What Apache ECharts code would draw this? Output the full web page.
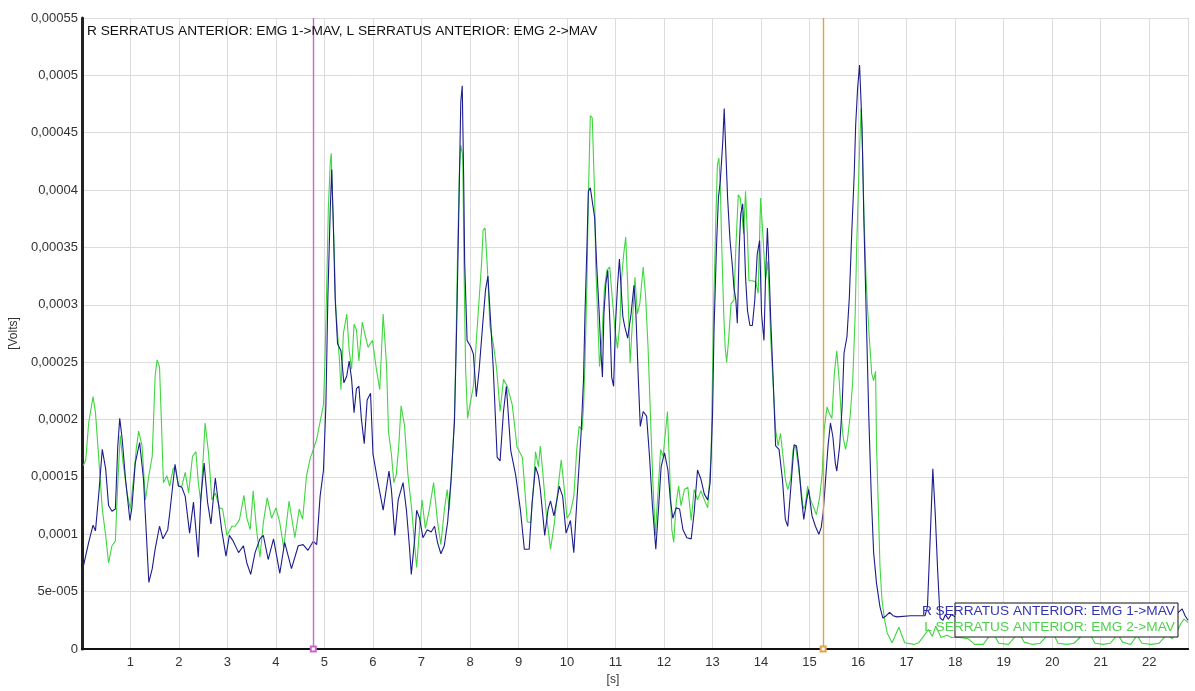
<!DOCTYPE html>
<html>
<head>
<meta charset="utf-8">
<script src="https://cdn.jsdelivr.net/npm/echarts@6/dist/echarts.min.js"></script>
<style>
html,body{margin:0;padding:0;background:#fff;}
#chart{width:1195px;height:691px;}
</style>
</head>
<body>
<div id="chart"></div>
<script>
// ---- data (time in s, amplitude in Volts) ----
const chartTitle = 'R SERRATUS ANTERIOR: EMG 1->MAV, L SERRATUS ANTERIOR: EMG 2->MAV';
const seriesNames = ['R SERRATUS ANTERIOR: EMG 1->MAV', 'L SERRATUS ANTERIOR: EMG 2->MAV'];
const xAxisName = '[s]';
const yAxisName = '[Volts]';
const yTickLabels = ['0','5e-005','0,0001','0,00015','0,0002','0,00025','0,0003','0,00035','0,0004','0,00045','0,0005','0,00055'];
const markerTimes = [4.77, 15.28];

const rSerratus = [
[0.03,7.2e-5],[0.14,9.3e-5],[0.23,10.8e-5],[0.28,10.3e-5],[0.35,13.6e-5],[0.42,17.4e-5],[0.49,15.7e-5],[0.55,12.5e-5],[0.62,12.0e-5],[0.69,12.2e-5],
[0.74,17.7e-5],[0.78,20.1e-5],[0.83,18.3e-5],[0.90,14.8e-5],[0.99,11.2e-5],[1.03,12.3e-5],[1.10,16.2e-5],[1.19,18.0e-5],[1.27,14.8e-5],[1.33,9.9e-5],
[1.38,5.8e-5],[1.45,7.0e-5],[1.51,8.7e-5],[1.60,10.7e-5],[1.67,9.6e-5],[1.77,10.4e-5],[1.82,12.2e-5],[1.92,16.1e-5],[1.99,14.2e-5],[2.06,14.1e-5],
[2.13,13.3e-5],[2.22,10.1e-5],[2.30,12.8e-5],[2.40,8.0e-5],[2.45,13.0e-5],[2.52,16.2e-5],[2.59,12.8e-5],[2.66,10.9e-5],[2.75,14.9e-5],[2.82,12.5e-5],
[2.88,10.4e-5],[2.97,8.1e-5],[3.04,9.9e-5],[3.12,9.4e-5],[3.23,8.4e-5],[3.33,9.0e-5],[3.40,7.5e-5],[3.48,6.5e-5],[3.57,8.4e-5],[3.67,9.6e-5],
[3.74,9.9e-5],[3.84,7.8e-5],[3.95,9.6e-5],[4.08,6.6e-5],[4.18,9.3e-5],[4.32,7.0e-5],[4.46,9.0e-5],[4.56,9.1e-5],[4.66,8.6e-5],[4.77,9.4e-5],
[4.84,9.1e-5],[4.91,13.3e-5],[4.98,15.6e-5],[5.03,21.3e-5],[5.07,30.6e-5],[5.12,38.4e-5],[5.15,41.8e-5],[5.18,37.4e-5],[5.22,30.6e-5],[5.27,26.6e-5],
[5.34,26.0e-5],[5.40,23.2e-5],[5.46,23.8e-5],[5.51,25.1e-5],[5.56,23.5e-5],[5.61,20.6e-5],[5.66,22.7e-5],[5.71,22.9e-5],[5.76,20.1e-5],[5.82,17.9e-5],
[5.88,21.7e-5],[5.95,22.3e-5],[6.00,17.0e-5],[6.09,14.8e-5],[6.21,12.1e-5],[6.33,15.5e-5],[6.38,13.9e-5],[6.45,9.9e-5],[6.52,13.0e-5],[6.62,14.5e-5],
[6.69,12.1e-5],[6.75,9.0e-5],[6.79,6.5e-5],[6.86,9.6e-5],[6.90,12.1e-5],[6.96,11.4e-5],[7.03,9.7e-5],[7.12,10.4e-5],[7.20,10.2e-5],[7.27,10.7e-5],
[7.33,9.3e-5],[7.40,8.3e-5],[7.47,9.0e-5],[7.54,11.1e-5],[7.61,14.8e-5],[7.68,19.8e-5],[7.73,29.1e-5],[7.78,40.5e-5],[7.81,47.7e-5],[7.84,49.1e-5],
[7.87,40.9e-5],[7.89,33.7e-5],[7.94,26.9e-5],[8.02,26.3e-5],[8.07,25.7e-5],[8.13,22.0e-5],[8.19,24.4e-5],[8.26,28.2e-5],[8.32,31.3e-5],[8.37,32.5e-5],
[8.43,28.2e-5],[8.48,24.4e-5],[8.56,16.7e-5],[8.62,16.4e-5],[8.69,20.7e-5],[8.75,22.9e-5],[8.84,17.3e-5],[8.94,15.2e-5],[9.04,12.1e-5],[9.12,8.7e-5],
[9.22,8.7e-5],[9.28,12.7e-5],[9.35,15.9e-5],[9.41,15.1e-5],[9.45,13.9e-5],[9.54,9.9e-5],[9.61,12.2e-5],[9.66,12.9e-5],[9.73,11.6e-5],[9.80,13.2e-5],
[9.84,14.2e-5],[9.91,13.3e-5],[9.98,10.1e-5],[10.07,11.2e-5],[10.14,8.4e-5],[10.20,12.7e-5],[10.29,18.8e-5],[10.34,23.5e-5],[10.37,29.2e-5],[10.41,35.0e-5],
[10.44,39.9e-5],[10.48,40.2e-5],[10.52,40.2e-5],[10.57,37.6e-5],[10.61,33.6e-5],[10.66,29.5e-5],[10.70,25.8e-5],[10.73,23.7e-5],[10.76,29.2e-5],[10.80,31.8e-5],
[10.84,33.0e-5],[10.89,27.8e-5],[10.92,23.7e-5],[10.96,22.9e-5],[11.00,28.4e-5],[11.04,31.6e-5],[11.08,34.0e-5],[11.11,31.8e-5],[11.15,29.0e-5],[11.19,28.1e-5],
[11.25,27.1e-5],[11.32,29.2e-5],[11.38,31.7e-5],[11.42,29.2e-5],[11.47,23.5e-5],[11.51,19.4e-5],[11.57,20.7e-5],[11.64,20.3e-5],[11.70,16.8e-5],[11.76,12.5e-5],
[11.83,8.7e-5],[11.89,12.5e-5],[11.94,15.9e-5],[12.01,17.1e-5],[12.08,15.6e-5],[12.13,13.0e-5],[12.18,11.4e-5],[12.25,12.3e-5],[12.32,12.2e-5],[12.39,10.4e-5],
[12.47,9.7e-5],[12.56,9.6e-5],[12.62,11.9e-5],[12.69,15.6e-5],[12.76,14.8e-5],[12.83,13.5e-5],[12.90,13.0e-5],[12.95,14.5e-5],[13.00,20.5e-5],[13.03,27.8e-5],
[13.08,35.0e-5],[13.12,39.3e-5],[13.16,40.8e-5],[13.21,44.2e-5],[13.24,47.1e-5],[13.27,43.7e-5],[13.31,39.3e-5],[13.36,35.6e-5],[13.41,33.3e-5],[13.44,31.5e-5],
[13.48,30.4e-5],[13.51,28.4e-5],[13.55,35.0e-5],[13.58,37.9e-5],[13.62,38.8e-5],[13.65,36.2e-5],[13.68,32.4e-5],[13.72,29.5e-5],[13.77,28.2e-5],[13.82,28.2e-5],
[13.87,30.4e-5],[13.92,34.4e-5],[13.97,35.6e-5],[14.01,29.2e-5],[14.06,26.9e-5],[14.09,32.1e-5],[14.13,36.7e-5],[14.16,33.6e-5],[14.20,28.6e-5],[14.25,23.4e-5],
[14.30,17.7e-5],[14.37,17.4e-5],[14.44,14.8e-5],[14.50,11.3e-5],[14.55,10.7e-5],[14.61,13.9e-5],[14.68,17.8e-5],[14.73,17.7e-5],[14.78,15.9e-5],[14.83,13.3e-5],
[14.88,11.3e-5],[14.94,13.0e-5],[14.98,13.9e-5],[15.05,11.6e-5],[15.12,10.7e-5],[15.19,10.0e-5],[15.24,10.6e-5],[15.28,11.9e-5],[15.32,14.2e-5],[15.38,17.7e-5],
[15.43,19.7e-5],[15.48,18.5e-5],[15.53,16.2e-5],[15.56,15.5e-5],[15.62,17.7e-5],[15.67,21.1e-5],[15.71,25.8e-5],[15.77,27.2e-5],[15.82,30.7e-5],[15.87,36.4e-5],
[15.92,41.4e-5],[15.95,45.7e-5],[15.99,48.9e-5],[16.03,50.9e-5],[16.08,45.6e-5],[16.12,37.2e-5],[16.17,28.7e-5],[16.22,20.3e-5],[16.27,13.5e-5],[16.32,8.4e-5],
[16.38,5.7e-5],[16.45,3.7e-5],[16.51,2.7e-5],[16.58,2.9e-5],[16.65,3.2e-5],[16.72,2.9e-5],[16.80,2.8e-5],[17.08,2.9e-5],[17.38,2.9e-5],[17.43,3.7e-5],
[17.49,10.1e-5],[17.54,15.7e-5],[17.59,11.8e-5],[17.64,6.8e-5],[17.69,2.7e-5],[17.75,2.5e-5],[17.80,3.0e-5],[17.86,2.6e-5],[17.92,3.0e-5],[18.00,2.8e-5],
[18.10,3.0e-5],[18.50,2.9e-5],[19.00,2.9e-5],[19.50,2.9e-5],[20.00,2.9e-5],[20.50,2.9e-5],[21.00,2.9e-5],[21.50,2.9e-5],[22.00,2.9e-5],[22.50,2.9e-5],
[22.60,3.2e-5],[22.68,3.5e-5],[22.74,2.9e-5],[22.80,2.5e-5]
];

const lSerratus = [
[0.03,16.0e-5],[0.08,16.5e-5],[0.14,19.7e-5],[0.23,22.0e-5],[0.28,20.6e-5],[0.35,16.5e-5],[0.42,12.2e-5],[0.49,9.9e-5],[0.55,7.5e-5],[0.62,9.0e-5],
[0.69,9.4e-5],[0.74,14.5e-5],[0.79,18.6e-5],[0.85,16.2e-5],[0.93,13.6e-5],[1.00,12.2e-5],[1.07,15.1e-5],[1.12,17.4e-5],[1.17,19.0e-5],[1.24,17.7e-5],
[1.31,13.0e-5],[1.38,15.1e-5],[1.45,16.8e-5],[1.51,23.8e-5],[1.55,25.2e-5],[1.60,24.6e-5],[1.64,19.7e-5],[1.68,14.5e-5],[1.75,15.1e-5],[1.81,14.2e-5],
[1.88,15.7e-5],[1.92,15.9e-5],[1.99,14.2e-5],[2.06,14.2e-5],[2.13,15.4e-5],[2.20,13.6e-5],[2.28,16.8e-5],[2.35,17.2e-5],[2.40,14.5e-5],[2.45,12.8e-5],
[2.54,19.7e-5],[2.61,17.1e-5],[2.68,13.0e-5],[2.75,13.6e-5],[2.84,12.3e-5],[2.90,12.2e-5],[2.99,9.9e-5],[3.09,10.7e-5],[3.16,10.7e-5],[3.25,11.3e-5],
[3.34,13.4e-5],[3.40,11.4e-5],[3.47,10.4e-5],[3.53,13.8e-5],[3.60,10.4e-5],[3.67,8.0e-5],[3.74,11.0e-5],[3.82,13.2e-5],[3.91,11.4e-5],[4.00,12.3e-5],
[4.08,11.0e-5],[4.16,8.8e-5],[4.27,12.9e-5],[4.39,9.7e-5],[4.48,12.2e-5],[4.55,11.3e-5],[4.63,15.1e-5],[4.71,16.7e-5],[4.74,17.0e-5],[4.84,18.3e-5],
[4.91,19.8e-5],[4.98,21.3e-5],[5.01,25.1e-5],[5.05,32.2e-5],[5.08,38.4e-5],[5.12,42.4e-5],[5.14,43.2e-5],[5.16,39.9e-5],[5.20,35.0e-5],[5.23,30.0e-5],
[5.27,27.5e-5],[5.31,25.1e-5],[5.34,22.6e-5],[5.39,27.5e-5],[5.46,29.2e-5],[5.51,26.0e-5],[5.56,24.4e-5],[5.61,28.3e-5],[5.66,27.8e-5],[5.71,25.1e-5],
[5.78,28.5e-5],[5.83,27.5e-5],[5.90,26.3e-5],[5.99,26.9e-5],[6.07,24.4e-5],[6.14,22.6e-5],[6.21,29.2e-5],[6.28,24.7e-5],[6.32,18.9e-5],[6.38,17.0e-5],
[6.43,14.5e-5],[6.48,15.2e-5],[6.53,17.6e-5],[6.58,21.2e-5],[6.65,19.5e-5],[6.72,15.2e-5],[6.80,12.1e-5],[6.86,9.0e-5],[6.90,7.1e-5],[6.96,10.5e-5],
[7.01,13.0e-5],[7.08,10.5e-5],[7.16,12.1e-5],[7.25,14.5e-5],[7.33,11.1e-5],[7.40,9.1e-5],[7.47,12.1e-5],[7.53,13.9e-5],[7.57,12.1e-5],[7.62,15.2e-5],
[7.68,20.4e-5],[7.71,26.0e-5],[7.74,33.7e-5],[7.78,41.5e-5],[7.81,43.9e-5],[7.85,43.0e-5],[7.88,32.2e-5],[7.91,24.4e-5],[7.95,20.1e-5],[8.00,21.3e-5],
[8.07,22.9e-5],[8.14,27.5e-5],[8.19,30.6e-5],[8.24,33.7e-5],[8.27,36.5e-5],[8.31,36.7e-5],[8.36,33.1e-5],[8.41,28.2e-5],[8.48,26.6e-5],[8.55,24.4e-5],
[8.62,20.7e-5],[8.69,23.5e-5],[8.77,22.9e-5],[8.87,21.3e-5],[8.97,17.6e-5],[9.08,16.7e-5],[9.18,11.1e-5],[9.25,11.0e-5],[9.32,14.8e-5],[9.35,17.2e-5],
[9.41,15.9e-5],[9.45,17.7e-5],[9.50,15.4e-5],[9.57,11.9e-5],[9.66,8.7e-5],[9.74,11.0e-5],[9.82,14.2e-5],[9.88,16.5e-5],[9.93,14.5e-5],[10.00,11.4e-5],
[10.07,11.9e-5],[10.14,13.3e-5],[10.20,17.4e-5],[10.25,19.4e-5],[10.31,19.1e-5],[10.34,21.1e-5],[10.37,24.9e-5],[10.41,31.8e-5],[10.44,39.4e-5],[10.48,46.5e-5],
[10.52,46.3e-5],[10.57,39.4e-5],[10.59,33.6e-5],[10.63,29.2e-5],[10.67,24.6e-5],[10.72,27.2e-5],[10.77,31.3e-5],[10.82,33.0e-5],[10.88,33.3e-5],[10.93,30.7e-5],
[10.99,27.8e-5],[11.04,26.2e-5],[11.09,28.4e-5],[11.12,32.1e-5],[11.17,34.5e-5],[11.21,35.9e-5],[11.25,31.8e-5],[11.30,24.9e-5],[11.34,24.9e-5],[11.40,32.4e-5],
[11.45,29.2e-5],[11.50,30.1e-5],[11.57,33.3e-5],[11.62,30.7e-5],[11.67,26.3e-5],[11.72,20.3e-5],[11.77,14.5e-5],[11.82,9.9e-5],[11.87,13.3e-5],[11.93,17.4e-5],
[11.98,16.8e-5],[12.02,16.8e-5],[12.07,20.7e-5],[12.11,16.2e-5],[12.16,10.4e-5],[12.20,9.3e-5],[12.25,12.7e-5],[12.30,14.2e-5],[12.35,12.5e-5],[12.42,13.9e-5],
[12.49,14.1e-5],[12.56,11.2e-5],[12.62,13.9e-5],[12.69,13.0e-5],[12.76,13.8e-5],[12.83,13.0e-5],[12.90,12.3e-5],[12.97,16.8e-5],[13.02,29.2e-5],[13.07,37.9e-5],
[13.10,42.2e-5],[13.13,42.8e-5],[13.16,40.2e-5],[13.19,35.0e-5],[13.23,29.2e-5],[13.26,26.3e-5],[13.29,25.0e-5],[13.33,26.9e-5],[13.38,30.1e-5],[13.44,30.4e-5],
[13.48,35.0e-5],[13.53,39.6e-5],[13.57,39.3e-5],[13.60,38.2e-5],[13.64,36.2e-5],[13.68,39.9e-5],[13.72,35.9e-5],[13.75,32.1e-5],[13.82,32.1e-5],[13.89,32.0e-5],
[13.94,31.0e-5],[13.99,39.3e-5],[14.04,35.9e-5],[14.09,32.1e-5],[14.14,33.8e-5],[14.20,26.9e-5],[14.25,22.9e-5],[14.30,19.1e-5],[14.35,17.7e-5],[14.40,18.8e-5],
[14.46,16.5e-5],[14.50,14.8e-5],[14.55,13.9e-5],[14.61,14.8e-5],[14.66,17.4e-5],[14.71,17.7e-5],[14.76,16.2e-5],[14.81,14.5e-5],[14.87,12.2e-5],[14.91,12.5e-5],
[14.96,14.2e-5],[15.02,13.0e-5],[15.07,12.5e-5],[15.14,11.7e-5],[15.21,13.3e-5],[15.26,15.3e-5],[15.30,19.1e-5],[15.36,21.1e-5],[15.41,20.5e-5],[15.46,20.1e-5],
[15.51,24.0e-5],[15.56,26.0e-5],[15.61,23.4e-5],[15.65,20.5e-5],[15.69,18.5e-5],[15.74,17.4e-5],[15.78,18.2e-5],[15.84,20.5e-5],[15.89,23.4e-5],[15.94,29.2e-5],
[15.97,35.0e-5],[16.02,42.2e-5],[16.06,47.1e-5],[16.09,43.7e-5],[16.12,37.9e-5],[16.16,32.7e-5],[16.19,30.1e-5],[16.23,27.2e-5],[16.28,24.0e-5],[16.32,23.4e-5],
[16.36,24.2e-5],[16.38,17.7e-5],[16.42,11.9e-5],[16.45,7.3e-5],[16.49,4.4e-5],[16.54,2.7e-5],[16.60,1.4e-5],[16.70,0.55e-5],[16.84,1.9e-5],[16.96,0.55e-5],
[17.15,0.4e-5],[17.25,0.55e-5],[17.35,1.1e-5],[17.45,1.7e-5],[17.53,1.1e-5],[17.60,2.0e-5],[17.71,1.0e-5],[17.83,1.2e-5],[17.93,1.0e-5],[18.10,1.0e-5],
[18.27,0.9e-5],[18.40,0.4e-5],[18.58,0.4e-5],[18.70,1.1e-5],[18.80,1.3e-5],[18.90,0.5e-5],[19.10,0.4e-5],[19.22,1.0e-5],[19.32,1.4e-5],[19.42,0.6e-5],
[19.60,0.4e-5],[19.75,0.5e-5],[19.92,1.3e-5],[20.02,1.4e-5],[20.12,0.5e-5],[20.30,0.4e-5],[20.45,0.5e-5],[20.62,1.2e-5],[20.78,1.3e-5],[20.88,0.5e-5],
[21.05,0.4e-5],[21.20,0.5e-5],[21.35,1.3e-5],[21.45,0.6e-5],[21.62,0.4e-5],[21.75,1.2e-5],[21.85,0.5e-5],[22.05,0.4e-5],[22.20,0.5e-5],[22.37,1.3e-5],
[22.47,0.9e-5],[22.57,1.5e-5],[22.65,2.2e-5],[22.72,2.6e-5],[22.80,2.3e-5]
];

// ---- chart ----
const FONT = '"Liberation Sans", Arial, sans-serif';
const chart = echarts.init(document.getElementById('chart'), null, {renderer: 'canvas'});
const xMin = 0, xMax = 22.8, yMax = 0.00055, yStep = 0.00005;

chart.setOption({
  animation: false,
  backgroundColor: '#ffffff',
  title: {
    text: chartTitle, left: 82, top: 19,
    textStyle: {fontFamily: FONT, fontSize: 13.7, fontWeight: 'normal', color: '#111'}
  },
  grid: {left: 79, right: 7, top: 18, bottom: 38, containLabel: false},
  xAxis: [{
    type: 'value', min: xMin, max: xMax, interval: 1,
    name: xAxisName, nameLocation: 'middle', nameGap: 25,
    nameTextStyle: {fontFamily: FONT, fontSize: 12, color: '#333', padding: [0, 44, 0, 0]},
    axisLine: {show: true, onZero: false, lineStyle: {color: '#111', width: 2}},
    axisTick: {show: false},
    axisLabel: {fontFamily: FONT, fontSize: 13, color: '#333', margin: 7, showMinLabel: false, showMaxLabel: false,
      formatter: v => (v === 0 ? '' : String(v))},
    splitLine: {show: true, lineStyle: {color: '#dcdcdc', width: 1}}
  }, {
    type: 'value', position: 'top', min: xMin, max: xMax,
    axisLine: {show: true, lineStyle: {color: '#111', width: 2}},
    axisTick: {show: false}, axisLabel: {show: false}, splitLine: {show: false}
  }],
  yAxis: {
    type: 'value', min: 0, max: yMax, interval: yStep,
    name: yAxisName, nameLocation: 'middle', nameGap: 51, nameRotate: 90,
    nameTextStyle: {fontFamily: FONT, fontSize: 12, color: '#333'},
    axisLine: {show: true, lineStyle: {color: '#222', width: 3}},
    axisTick: {show: false},
    axisLabel: {fontFamily: FONT, fontSize: 13, color: '#333', margin: 4,
      formatter: v => yTickLabels[Math.round(v / yStep)] || ''},
    splitLine: {show: true, lineStyle: {color: '#dcdcdc', width: 1}}
  },
  series: [{
    name: seriesNames[1], type: 'line', data: lSerratus, showSymbol: false, symbol: 'none',
    lineStyle: {color: '#3fd63f', width: 1.1}, z: 3,
    markLine: {
      silent: true, symbol: ['emptyRect', 'none'], symbolSize: 5, label: {show: false},
      data: [
        {xAxis: markerTimes[0], lineStyle: {color: '#cc66cc', width: 1.4, type: 'solid'}, itemStyle: {color: '#cc66cc'}},
        {xAxis: markerTimes[1], lineStyle: {color: '#e0a24a', width: 1.4, type: 'solid'}, itemStyle: {color: '#e0a24a'}}
      ]
    }
  }, {
    name: seriesNames[0], type: 'line', data: rSerratus, showSymbol: false, symbol: 'none',
    lineStyle: {color: '#1c1c8c', width: 1.1}, z: 4
  }],
  graphic: [{
    type: 'rect', z: 100,
    shape: {x: 955, y: 603, width: 223, height: 34},
    style: {fill: '#ffffff', stroke: '#111', lineWidth: 1}
  }, {
    type: 'text', z: 101, x: 1175, y: 611,
    style: {text: seriesNames[0], fill: '#3434b0', font: '13.7px ' + FONT, textAlign: 'right', textVerticalAlign: 'middle'}
  }, {
    type: 'text', z: 101, x: 1175, y: 627,
    style: {text: seriesNames[1], fill: '#4fd04f', font: '13.7px ' + FONT, textAlign: 'right', textVerticalAlign: 'middle'}
  }]
});
</script>
</body>
</html>
